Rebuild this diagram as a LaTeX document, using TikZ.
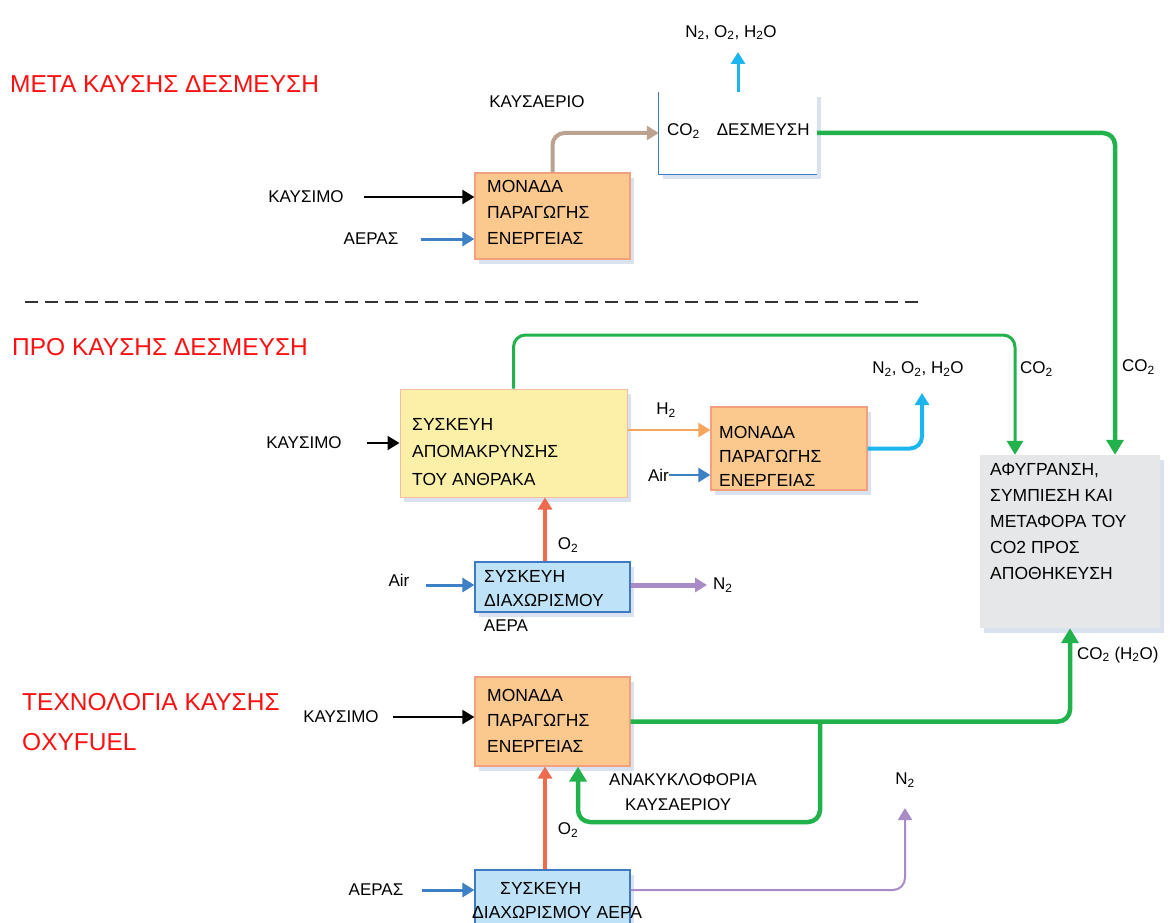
\documentclass[tikz,border=0pt]{standalone}
\usepackage{fontspec}
\setmainfont{Liberation Sans}
\usetikzlibrary{arrows.meta,shadows,calc}
\definecolor{orfill}{HTML}{FBC88E}
\definecolor{ordraw}{HTML}{F3A07E}
\definecolor{yefill}{HTML}{FCEFA8}
\definecolor{bufill}{HTML}{BEE3F8}
\definecolor{budraw}{HTML}{3F7BC2}
\definecolor{grfill}{HTML}{E6E7E9}
\definecolor{gr}{HTML}{22B24C}
\definecolor{cy}{HTML}{1CB6EE}
\definecolor{brn}{HTML}{BBA291}
\definecolor{blu}{HTML}{3D80C6}
\definecolor{pur}{HTML}{A98BC7}
\definecolor{rd}{HTML}{EF6B4E}
\definecolor{hyc}{HTML}{F6A55C}
\definecolor{shad}{HTML}{CBD4E8}
\definecolor{ttl}{HTML}{FF1010}
\definecolor{dsh}{HTML}{333333}
\begin{document}
\begin{tikzpicture}[x=1pt,y=-1pt,
  boxsh/.style={drop shadow={shadow xshift=4pt,shadow yshift=-5pt,fill=shad,opacity=0.7}},
  orbox/.style={rectangle,fill=orfill,draw=ordraw,line width=1.2pt,boxsh},
  yebox/.style={rectangle,fill=yefill,draw=ordraw!70,line width=1pt,boxsh},
  bubox/.style={rectangle,fill=bufill,draw=budraw,line width=1.2pt,boxsh},
  grbox/.style={rectangle,fill=grfill,boxsh},
  whbox/.style={rectangle,fill=white,boxsh},
  btext/.style={anchor=north west,align=left,inner sep=0pt},
  lbl/.style={inner sep=0pt,font=\fontsize{17}{19}\selectfont},
  ttitle/.style={anchor=west,align=left,inner sep=0pt,text=ttl,font=\fontsize{24.5}{40}\selectfont},
  arr/.style={-{Triangle[width=14pt,length=12pt]}},
  thickarr/.style={line width=4.5pt,rounded corners=12pt,-{Triangle[width=17pt,length=15pt]}},
]
\useasboundingbox (0,0) rectangle (1172,923);

% titles
\node[ttitle] (t1) at (10,84) {ΜΕΤΑ ΚΑΥΣΗΣ ΔΕΣΜΕΥΣΗ};
\node[ttitle] (t2) at (12,347) {ΠΡΟ ΚΑΥΣΗΣ ΔΕΣΜΕΥΣΗ};
\node[ttitle] (t3) at (22,722) {ΤΕΧΝΟΛΟΓΙΑ ΚΑΥΣΗΣ\\OXYFUEL};

% dashed separator
\coordinate (d1) at (25,302);
\coordinate (d2) at (918,302);
\draw[dsh,line width=2pt,dash pattern=on 13pt off 7pt] (d1) -- (d2);

% boxes
\node[orbox,minimum width=155pt,minimum height=86pt] (mp1) at (552.5,216) {};
\node[whbox,minimum width=158pt,minimum height=82pt] (co2) at (738,133) {};
\draw[budraw,line width=1.2pt] (co2.north west) -- (co2.south west) -- (co2.south east);
\node[yebox,minimum width=227pt,minimum height=108pt] (yel) at (513.5,443) {};
\node[orbox,minimum width=156pt,minimum height=83pt] (mp2) at (789,448.5) {};
\node[grbox,minimum width=180pt,minimum height=173pt] (gray) at (1070,541.5) {};
\node[bubox,minimum width=155pt,minimum height=50pt] (asu1) at (552.5,587) {};
\node[orbox,minimum width=155pt,minimum height=89pt] (mp3) at (552.5,721.5) {};
\node[bubox,minimum width=155pt,minimum height=60pt] (asu2) at (552.5,900) {};

% box texts
\node[btext,font=\fontsize{17.5}{26}\selectfont] (mp1t) at (487,180) {ΜΟΝΑΔΑ\\ΠΑΡΑΓΩΓΗΣ\\ΕΝΕΡΓΕΙΑΣ};
\node[lbl,anchor=west] (co2t) at (667,131) {CO\textsubscript{2}\quad ΔΕΣΜΕΥΣΗ};
\node[btext,font=\fontsize{17.5}{27.5}\selectfont] (yelt) at (412,418) {ΣΥΣΚΕΥΗ\\ΑΠΟΜΑΚΡΥΝΣΗΣ\\ΤΟΥ ΑΝΘΡΑΚΑ};
\node[btext,font=\fontsize{17.5}{24}\selectfont] (mp2t) at (719,426) {ΜΟΝΑΔΑ\\ΠΑΡΑΓΩΓΗΣ\\ΕΝΕΡΓΕΙΑΣ};
\node[btext,font=\fontsize{17.5}{26}\selectfont] (grayt) at (990,463) {ΑΦΥΓΡΑΝΣΗ,\\ΣΥΜΠΙΕΣΗ ΚΑΙ\\ΜΕΤΑΦΟΡΑ ΤΟΥ\\CO2 ΠΡΟΣ\\ΑΠΟΘΗΚΕΥΣΗ};
\node[btext,font=\fontsize{17.5}{24}\selectfont] (asu1t) at (484,570) {ΣΥΣΚΕΥΗ\\ΔΙΑΧΩΡΙΣΜΟΥ};
\node[lbl] (asu1b) at (506,626) {ΑΕΡΑ};
\node[btext,font=\fontsize{17.5}{25.5}\selectfont] (mp3t) at (487,689) {ΜΟΝΑΔΑ\\ΠΑΡΑΓΩΓΗΣ\\ΕΝΕΡΓΕΙΑΣ};
\node[btext,font=\fontsize{17.5}{24}\selectfont] (asu2t) at (472,882) {\hspace*{28pt}ΣΥΣΚΕΥΗ\\ΔΙΑΧΩΡΙΣΜΟΥ ΑΕΡΑ};

% ---- top section
\node[lbl] (fuel1) at (306,197) {ΚΑΥΣΙΜΟ};
\draw[black,line width=2pt,arr] (fuel1.east) ++(20,0) coordinate (f1s) -- (f1s -| mp1.west);
\node[lbl] (air1) at (371,239) {ΑΕΡΑΣ};
\draw[blu,line width=3pt,arr] (air1.east) ++(22,0) coordinate (a1s) -- (a1s -| mp1.west);
\node[lbl] (flue) at (537,102) {ΚΑΥΣΑΕΡΙΟ};
\draw[brn,line width=4pt,rounded corners=12pt,arr] (mp1.north) |- (co2.west);
\coordinate (out1) at (738,52);
\node[lbl,anchor=south] (gas1) at (731,40) {N\textsubscript{2}, O\textsubscript{2}, H\textsubscript{2}O};
\draw[cy,line width=3pt,arr] (co2.north) -- (out1);
\coordinate (gx1) at (1115,133);
\draw[gr,thickarr] (co2.east) -- (gx1) -- (gx1 |- gray.north);
\node[lbl,anchor=west] (lc1) at (1122,367) {CO\textsubscript{2}};

% ---- middle section
\node[lbl] (fuel2) at (304,443) {ΚΑΥΣΙΜΟ};
\draw[black,line width=2pt,arr] (fuel2.east) ++(25,0) coordinate (f2s) -- (f2s -| yel.west);
\coordinate (gx2) at (1015,335);
\draw[gr,line width=3pt,rounded corners=12pt,-{Triangle[width=16pt,length=14pt]}] (yel.north) |- (gx2) -- (gx2 |- gray.north);
\node[lbl,anchor=west] (lc2) at (1020,369) {CO\textsubscript{2}};
\coordinate (hy) at (0,430);
\draw[hyc,line width=2.5pt,arr] (yel.east |- hy) -- (mp2.west |- hy);
\node[lbl] (h2) at (666,410) {H\textsubscript{2}};
\coordinate (ay) at (0,475);
\node[lbl,anchor=east] (air2) at (669,475) {Air};
\draw[blu,line width=2.5pt,arr] (air2.east) -- (mp2.west |- ay);
\coordinate (out2) at (922,393);
\draw[cy,line width=4pt,rounded corners=12pt,arr] (mp2.east) -| (out2);
\node[lbl] (gas2) at (918,369) {N\textsubscript{2}, O\textsubscript{2}, H\textsubscript{2}O};
\coordinate (rx) at (545,0);
\draw[rd,line width=4pt,arr] (asu1.north -| rx) -- (yel.south -| rx);
\node[lbl] (o2a) at (568,545) {O\textsubscript{2}};
\node[lbl] (air3) at (399,580) {Air};
\draw[blu,line width=3pt,arr] (air3.east) ++(16,5) coordinate (a3s) -- (a3s -| asu1.west);
\coordinate (out3) at (707,585);
\draw[pur,line width=5pt,arr] (asu1.east |- out3) -- (out3);
\node[lbl,anchor=west] (n2a) at (713,585) {N\textsubscript{2}};

% ---- bottom section
\node[lbl] (fuel3) at (341,717) {ΚΑΥΣΙΜΟ};
\draw[black,line width=2pt,arr] (fuel3.east) ++(14,0) coordinate (f3s) -- (f3s -| mp3.west);
\draw[gr,thickarr] (mp3.east) -| (gray.south);
\node[lbl,anchor=west] (lc3) at (1077,655) {CO\textsubscript{2} (H\textsubscript{2}O)};
\coordinate (br) at (820,721.5);
\coordinate (rc) at (578,822);
\draw[gr,thickarr] (br) |- (rc) -- (rc |- mp3.south);
\node[inner sep=0pt,align=left,anchor=north west,font=\fontsize{17}{25}\selectfont] (recirc) at (609,773) {ΑΝΑΚΥΚΛΟΦΟΡΙΑ\\\hspace*{16pt}ΚΑΥΣΑΕΡΙΟΥ};
\draw[rd,line width=4pt,arr] (asu2.north -| rx) -- (mp3.south -| rx);
\node[lbl] (o2b) at (568,830) {O\textsubscript{2}};
\node[lbl] (air4) at (376,890) {ΑΕΡΑΣ};
\draw[blu,line width=3pt,arr] (air4.east) ++(18,0) coordinate (a4s) -- (a4s -| asu2.west);
\coordinate (out4) at (905,808);
\draw[pur,line width=2pt,rounded corners=12pt,arr] (asu2.east |- 0,890) -| (out4);
\node[lbl] (n2b) at (905,780) {N\textsubscript{2}};
\end{tikzpicture}
\end{document}
